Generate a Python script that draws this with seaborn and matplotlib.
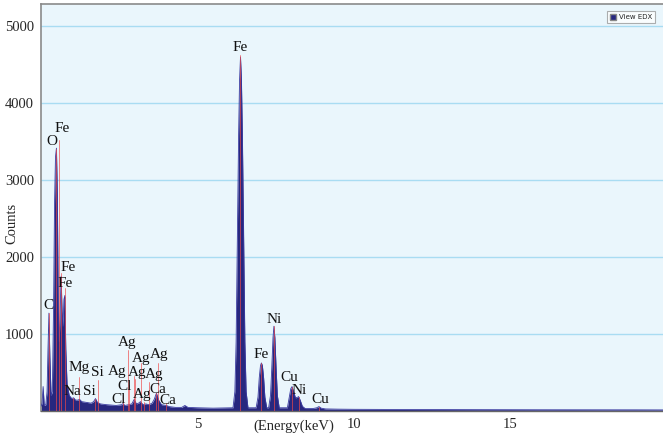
import matplotlib
matplotlib.use("Agg")
import matplotlib.pyplot as plt
import matplotlib.patches as mpatches
import seaborn as sns
import pandas as pd

# ---- spectrum (keV, counts) ----
energy = [0.00, 0.03, 0.064, 0.10, 0.15, 0.19, 0.22, 0.25, 0.28, 0.32, 0.36, 0.40, 0.43, 0.46,
          0.49, 0.52, 0.55, 0.58, 0.61, 0.64, 0.67, 0.70, 0.73, 0.76, 0.79, 0.83, 0.90, 0.98,
          1.04, 1.10, 1.18, 1.23, 1.30, 1.45, 1.60, 1.68, 1.74, 1.80, 1.90, 2.10, 2.40, 2.58,
          2.62, 2.68, 2.80, 2.90, 2.98, 3.05, 3.12, 3.18, 3.26, 3.35, 3.45, 3.55, 3.62, 3.69,
          3.76, 3.85, 4.01, 4.10, 4.30, 4.50, 4.60, 4.70, 5.00, 5.50, 6.00, 6.14, 6.20, 6.24,
          6.28, 6.32, 6.35, 6.38, 6.41, 6.44, 6.48, 6.52, 6.56, 6.62, 6.80, 6.88, 6.94, 6.98,
          7.02, 7.05, 7.08, 7.12, 7.16, 7.22, 7.28, 7.34, 7.38, 7.42, 7.45, 7.48, 7.52, 7.56,
          7.62, 7.75, 7.88, 7.94, 7.99, 8.03, 8.08, 8.14, 8.20, 8.24, 8.29, 8.36, 8.45, 8.70,
          8.82, 8.89, 8.96, 9.10, 9.50, 10.0, 11.0, 12.0, 13.0, 14.0, 15.0, 16.0, 17.0, 18.0,
          19.0, 20.0]
counts = [60, 100, 316, 70, 80, 250, 800, 1270, 700, 200, 250, 1400, 2700, 3300,
          3415, 2800, 1300, 900, 1300, 1750, 1300, 1100, 1450, 1500, 800, 350, 200, 160,
          170, 140, 140, 150, 120, 110, 100, 120, 160, 110, 90, 80, 70, 80,
          95, 70, 80, 90, 150, 90, 100, 120, 80, 90, 80, 100, 150, 230,
          140, 80, 70, 55, 45, 45, 70, 45, 40, 35, 40, 40, 250, 900,
          2300, 3600, 4300, 4600, 4300, 3600, 2300, 900, 250, 40, 40, 40, 180, 430,
          590, 623, 590, 430, 180, 40, 40, 200, 550, 950, 1100, 950, 550, 200,
          40, 40, 40, 180, 290, 316, 250, 170, 175, 186, 140, 60, 30, 30,
          40, 56, 35, 25, 22, 20, 18, 17, 16, 15, 15, 14, 14, 13,
          13, 12]

# ---- element markers (line energy keV, line top counts, label) ----
marker_energy = [0.256, 0.49, 0.587, 0.641, 0.76, 1.035, 1.228, 1.827, 1.72, 2.606, 2.82,
                 2.78, 2.98, 3.01, 3.20, 3.73, 3.46, 3.30, 3.69, 4.00,
                 6.38, 7.05, 7.45, 8.03, 8.24, 8.89]
marker_top = [1270, 3400, 3520, 1790, 1600, 170, 440, 400, 160, 210, 330,
              790, 450, 420, 620, 620, 380, 120, 230, 100,
              4620, 623, 1104, 316, 186, 56]
marker_label = ["C", "O", "Fe", "Fe", "Fe", "Na", "Mg", "Si", "Si", "Cl", "Cl",
                "Ag", "Ag", "Ag", "Ag", "Ag", "Ag", "Ag", "Ca", "Ca",
                "Fe", "Fe", "Ni", "Cu", "Ni", "Cu"]
# label centres (keV, counts)
label_x = [0.224, 0.353, 0.673, 0.875, 0.769, 1.003, 1.218, 1.804, 1.538, 2.478, 2.66,
           2.766, 2.426, 3.07, 3.215, 3.76, 3.62, 3.23, 3.73, 4.05,
           6.38, 7.05, 7.47, 7.95, 8.27, 8.94]
label_y = [1364, 3506, 3675, 1861, 1662, 251, 558, 494, 251, 143, 316,
           883, 510, 494, 675, 727, 468, 208, 273, 134,
           4727, 727, 1182, 429, 260, 143]

y_ticks = [1000, 2000, 3000, 4000, 5000]
x_ticks = [5, 10, 15]

df = pd.DataFrame({"Energy": energy, "Counts": counts})

sns.set_style("white")
plt.rcParams["font.family"] = ["Liberation Serif", "DejaVu Serif"]

fig = plt.figure(figsize=(6.63, 4.38), dpi=100)
ax = fig.add_axes([0.062, 0.062, 0.938, 0.929])
ax.set_facecolor("#EAF6FC")

navy = "#27277F"
ax.fill_between(df["Energy"], 0, df["Counts"], color=navy, lw=0, zorder=2)
sns.lineplot(data=df, x="Energy", y="Counts", color="#3A3AA0", lw=0.6, ax=ax, zorder=3)

for e, t in zip(marker_energy, marker_top):
    ax.plot([e, e], [0, t], color="#F04848", lw=0.55, alpha=0.85, zorder=4)
for lx, ly, lab in zip(label_x, label_y, marker_label):
    ax.text(lx, ly, lab, ha="center", va="center", fontsize=11, color="#111111", zorder=5)

ax.set_xlim(0, 19.9)
ax.set_ylim(0, 5290)
ax.set_yticks(y_ticks)
ax.set_xticks(x_ticks)
ax.set_yticklabels([str(v) for v in y_ticks], fontsize=10.5)
ax.set_xticklabels([str(v) for v in x_ticks], fontsize=10.5)
ax.tick_params(axis="both", length=3, width=0.8, color="#555555", pad=2, direction="out")
ax.yaxis.grid(True, color="#A9DCF2", lw=1.0)
ax.set_axisbelow(True)

ax.set_ylabel("Counts", fontsize=10.5)
ax.yaxis.set_label_coords(-0.037, 0.46)
ax.set_xlabel("(Energy(keV)", fontsize=10.5)
ax.xaxis.set_label_coords(0.407, -0.022)

for side in ["left", "top"]:
    ax.spines[side].set_color("#8A8A8A")
    ax.spines[side].set_linewidth(1.2)
ax.spines["bottom"].set_color("#666666")
ax.spines["bottom"].set_linewidth(1.0)
ax.spines["right"].set_visible(False)

handle = mpatches.Patch(facecolor=navy, edgecolor="#888888", label="View EDX")
leg = ax.legend(handles=[handle], loc="upper right", bbox_to_anchor=(0.992, 0.99),
                prop={"family": "DejaVu Sans", "size": 5}, frameon=True, fancybox=False,
                handlelength=0.8, handleheight=0.8, borderpad=0.4, handletextpad=0.4)
leg.get_frame().set_edgecolor("#9A9A9A")
leg.get_frame().set_linewidth(0.8)
leg.get_frame().set_facecolor("white")

fig.savefig("out.png", dpi=100)
